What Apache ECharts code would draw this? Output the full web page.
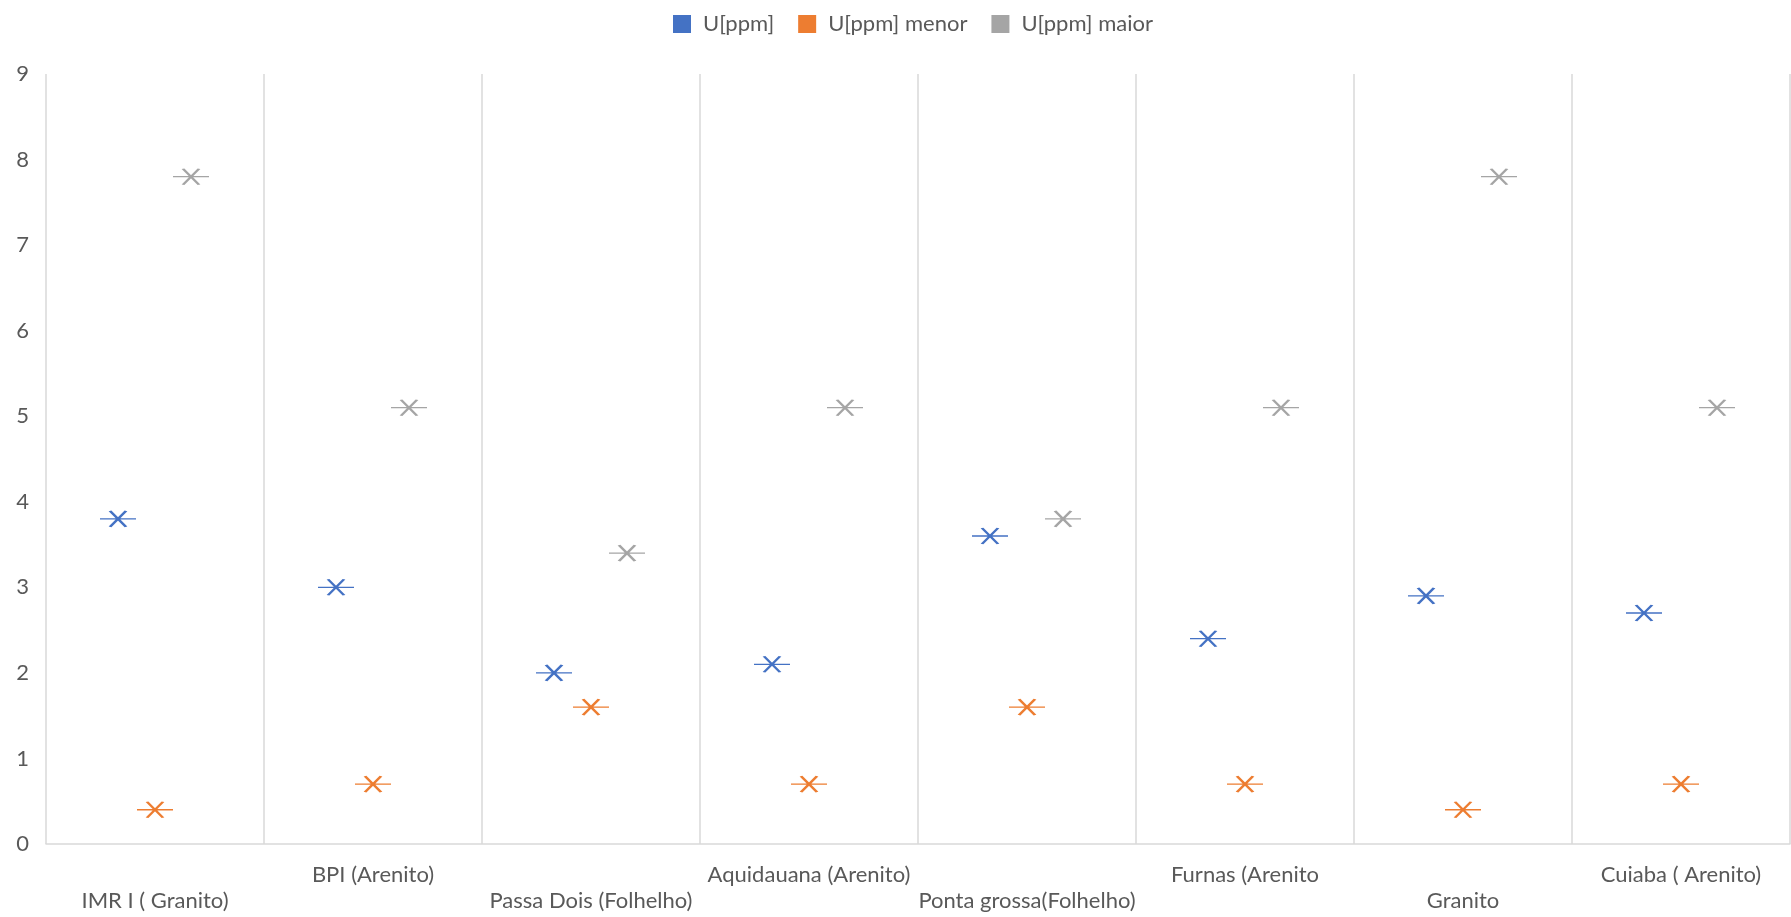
<!DOCTYPE html>
<html>
<head>
<meta charset="utf-8">
<script src="https://cdn.jsdelivr.net/npm/echarts@6/dist/echarts.min.js"></script>
<style>
  html, body { margin: 0; padding: 0; background: #fff; }
  #chart { width: 1791px; height: 917px; }
</style>
</head>
<body>
<div id="chart"></div>
<script>
// Rock units sampled
const categories = [
  'IMR I ( Granito)', 'BPI (Arenito)', 'Passa Dois (Folhelho)', 'Aquidauana (Arenito)',
  'Ponta grossa(Folhelho)', 'Furnas (Arenito', 'Granito', 'Cuiaba ( Arenito)'
];
// Uranium content (ppm): measured, lower and upper values
const uPpm      = [3.8, 3.0, 2.0, 2.1, 3.6, 2.4, 2.9, 2.7];
const uPpmMenor = [0.4, 0.7, 1.6, 0.7, 1.6, 0.7, 0.4, 0.7];
const uPpmMaior = [7.8, 5.1, 3.4, 5.1, 3.8, 5.1, 7.8, 5.1];
const seriesNames = ['U[ppm]', 'U[ppm] menor', 'U[ppm] maior'];
const yTicks = [0, 1, 2, 3, 4, 5, 6, 7, 8, 9];

const colors = ['#4472C4', '#ED7D31', '#A5A5A5'];
const FONT = 'Lato';
const FONT_SIZE = 22;
// asterisk-like marker: an X crossed by a horizontal dash
const star = 'path://M10,0L26,16M26,0L10,16M0,8L36,8';

function markSeries(name, data, color, offset) {
  return {
    name: name,
    type: 'scatter',
    data: data,
    symbol: star,
    symbolSize: [36, 16],
    symbolOffset: [offset, 0],
    itemStyle: { color: color, borderColor: color, borderWidth: 2, opacity: 1 },
    emphasis: { disabled: true }
  };
}

const chart = echarts.init(document.getElementById('chart'), null, { renderer: 'canvas' });
chart.setOption({
  animation: false,
  backgroundColor: '#ffffff',
  color: colors,
  textStyle: { fontFamily: FONT },
  legend: {
    top: 8,
    left: 668,
    icon: 'rect',
    itemWidth: 18,
    itemHeight: 18,
    itemGap: 24,
    textStyle: { color: '#595959', fontSize: FONT_SIZE, fontFamily: FONT, padding: [0, 0, 0, 7] },
    data: seriesNames.map((n, i) => ({ name: n, itemStyle: { color: colors[i], borderWidth: 0 } }))
  },
  grid: { left: 46, right: 1, top: 74, bottom: 73, containLabel: false },
  xAxis: {
    type: 'category',
    data: categories,
    boundaryGap: true,
    axisLine: { show: true, lineStyle: { color: '#d9d9d9', width: 1.5 } },
    axisTick: { show: false },
    splitLine: { show: true, interval: 0, lineStyle: { color: '#d9d9d9', width: 1.5 } },
    axisLabel: {
      interval: 0,
      color: '#595959',
      fontSize: FONT_SIZE,
      fontFamily: FONT,
      margin: 18,
      lineHeight: 26,
      formatter: (v, i) => (i % 2 === 0 ? '\n' + v : v)
    }
  },
  yAxis: {
    type: 'value',
    min: yTicks[0],
    max: yTicks[yTicks.length - 1],
    interval: 1,
    axisLine: { show: false },
    axisTick: { show: false },
    splitLine: { show: false },
    axisLabel: { color: '#595959', fontSize: FONT_SIZE, fontFamily: FONT, margin: 17 }
  },
  series: [
    markSeries(seriesNames[0], uPpm, colors[0], -37),
    markSeries(seriesNames[1], uPpmMenor, colors[1], 0),
    markSeries(seriesNames[2], uPpmMaior, colors[2], 36)
  ]
});
</script>
</body>
</html>
